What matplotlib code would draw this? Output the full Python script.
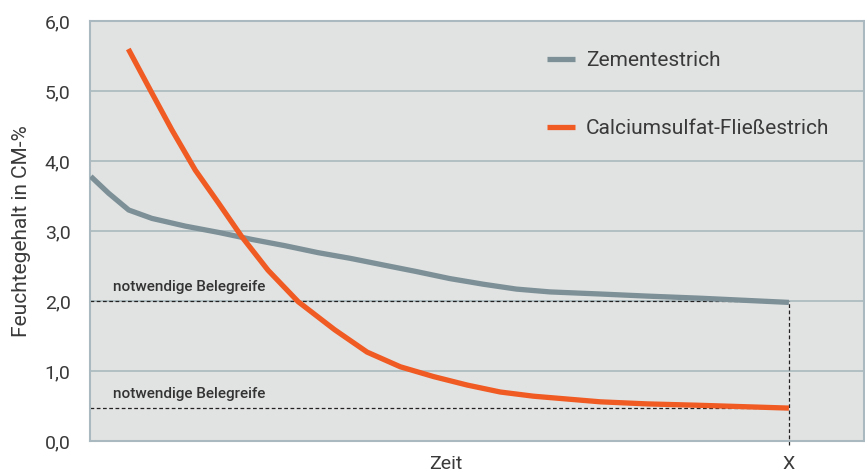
import matplotlib.pyplot as plt

# ===== data (x in arbitrary time units 0..100, X = end point) =====
zement_x = [0.1, 2.4, 5.0, 8.0, 12.3, 16.6, 20.9, 25.2, 29.5, 33.6, 38.1, 42.2,
            46.5, 50.8, 55.1, 59.4, 65.9, 72.0, 78.8, 90.3]
zement_y = [3.78, 3.54, 3.30, 3.18, 3.07, 2.98, 2.88, 2.79, 2.69, 2.61, 2.51, 2.42,
            2.32, 2.24, 2.17, 2.13, 2.10, 2.07, 2.04, 1.98]

calcium_x = [4.95, 8.0, 10.6, 13.6, 16.6, 19.6, 23.0, 26.9, 31.6, 35.8, 40.1,
             44.4, 48.7, 53.0, 57.3, 61.6, 65.9, 72.0, 78.8, 90.3]
calcium_y = [5.60, 4.97, 4.44, 3.87, 3.40, 2.92, 2.44, 1.99, 1.59, 1.27, 1.06,
             0.92, 0.80, 0.70, 0.64, 0.60, 0.56, 0.53, 0.51, 0.47]

belegreife = [2.0, 0.47]
x_end = 90.3
yticks = [0, 1, 2, 3, 4, 5, 6]
ytick_labels = ['0,0', '1,0', '2,0', '3,0', '4,0', '5,0', '6,0']

grey = '#7d9097'
orange = '#f05a23'
gridc = '#a9b9bf'
textc = '#3a3a3a'

plt.rcParams['font.family'] = ['Roboto', 'DejaVu Sans']

fig = plt.figure(figsize=(8.65, 4.75), dpi=100)
ax = fig.add_axes([90/865, 34/475, 774/865, 420/475])
ax.set_facecolor('#e1e3e2')

ax.set_xlim(0, 100)
ax.set_ylim(0, 6)

for y in yticks[1:-1]:
    ax.axhline(y, color=gridc, lw=1.2, zorder=1)
for s in ax.spines.values():
    s.set_color(gridc)
    s.set_linewidth(1.5)

# required readiness lines
for b in belegreife:
    ax.plot([0, x_end], [b, b], color='#222222', lw=0.9, ls=(0, (3, 2)), zorder=2)
    ax.text(3, b + 0.1, 'notwendige Belegreife', fontsize=11, color='#333333',
            fontweight='medium', va='bottom', ha='left')
ax.plot([x_end, x_end], [-0.05, belegreife[0]], color='#222222', lw=0.9,
        ls=(0, (3, 2)), zorder=2, clip_on=False)

ax.plot(zement_x, zement_y, color=grey, lw=3.8, solid_capstyle='butt',
        solid_joinstyle='round', label='Zementestrich', zorder=3)
ax.plot(calcium_x, calcium_y, color=orange, lw=3.8, solid_capstyle='butt',
        solid_joinstyle='round', label='Calciumsulfat-Fließestrich', zorder=3)

ax.set_yticks(yticks)
ax.set_yticklabels(ytick_labels, fontsize=14, color=textc)
ax.set_xticks([46.0, x_end])
ax.set_xticklabels(['Zeit', 'X'], fontsize=14, color=textc)
ax.tick_params(length=0, pad=14)
ax.tick_params(axis='x', pad=10)
ax.set_ylabel('Feuchtegehalt in CM-%', fontsize=15, color=textc, labelpad=10)

leg = ax.legend(loc='upper left', bbox_to_anchor=(0.59, 0.928), frameon=False,
                fontsize=15, labelspacing=2.35, handlelength=1.35,
                handletextpad=0.55, borderpad=0, borderaxespad=0,
                labelcolor=textc)

fig.savefig('out.png', dpi=100)
